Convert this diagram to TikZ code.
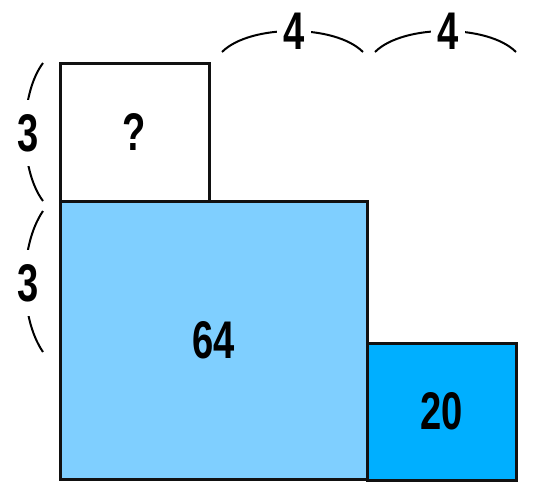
\documentclass[tikz,border=0pt]{standalone}
\usepackage{fontspec}
\newfontfamily\numfont[FakeStretch=0.72]{Liberation Sans Bold}
\definecolor{lightblue}{RGB}{127,207,255}
\definecolor{deepblue}{RGB}{0,175,255}
\definecolor{edge}{RGB}{17,17,17}
\begin{document}
\begin{tikzpicture}[x=1pt,y=-1pt,
  boxnode/.style={draw=edge,line width=3pt,inner sep=0pt,font=\numfont\fontsize{53}{53}\selectfont},
  bracelabel/.style={fill=white,inner xsep=6pt,inner ysep=2pt,font=\numfont\fontsize{53}{53}\selectfont},
  sidelabel/.style={fill=white,inner xsep=4pt,inner ysep=14pt,font=\numfont\fontsize{53}{53}\selectfont},
  braceline/.style={draw=black,line width=2pt}]
\useasboundingbox (0,0) rectangle (550,501);
% boxes
\node[boxnode,fill=lightblue,minimum width=307pt,minimum height=278pt] (big) at (213.5,340) {64};
\node[boxnode,fill=white,minimum width=149pt,minimum height=138pt] (top) at (134.5,132) {?};
\node[boxnode,fill=deepblue,minimum width=149pt,minimum height=137pt] (small) at (441.5,411.5) {20};
% braces
\coordinate (b1a) at (222,52); \coordinate (b1b) at (363,52);
\coordinate (b2a) at (375,52); \coordinate (b2b) at (516,52);
\coordinate (l1a) at (43,63);  \coordinate (l1b) at (43,201);
\coordinate (l2a) at (43,211); \coordinate (l2b) at (43,352);
\draw[braceline] (b1a) .. controls (250,24) and (335,24) .. (b1b);
\draw[braceline] (b2a) .. controls (403,24) and (488,24) .. (b2b);
\draw[braceline] (l1a) .. controls (19,95) and (19,169) .. (l1b);
\draw[braceline] (l2a) .. controls (19,246) and (19,317) .. (l2b);
\node[bracelabel] (w1) at (294,31.5) {4};
\node[bracelabel] (w2) at (448,31.5) {4};
\node[sidelabel] (h1) at (28,133) {3};
\node[sidelabel] (h2) at (28,283) {3};
\end{tikzpicture}
\end{document}
